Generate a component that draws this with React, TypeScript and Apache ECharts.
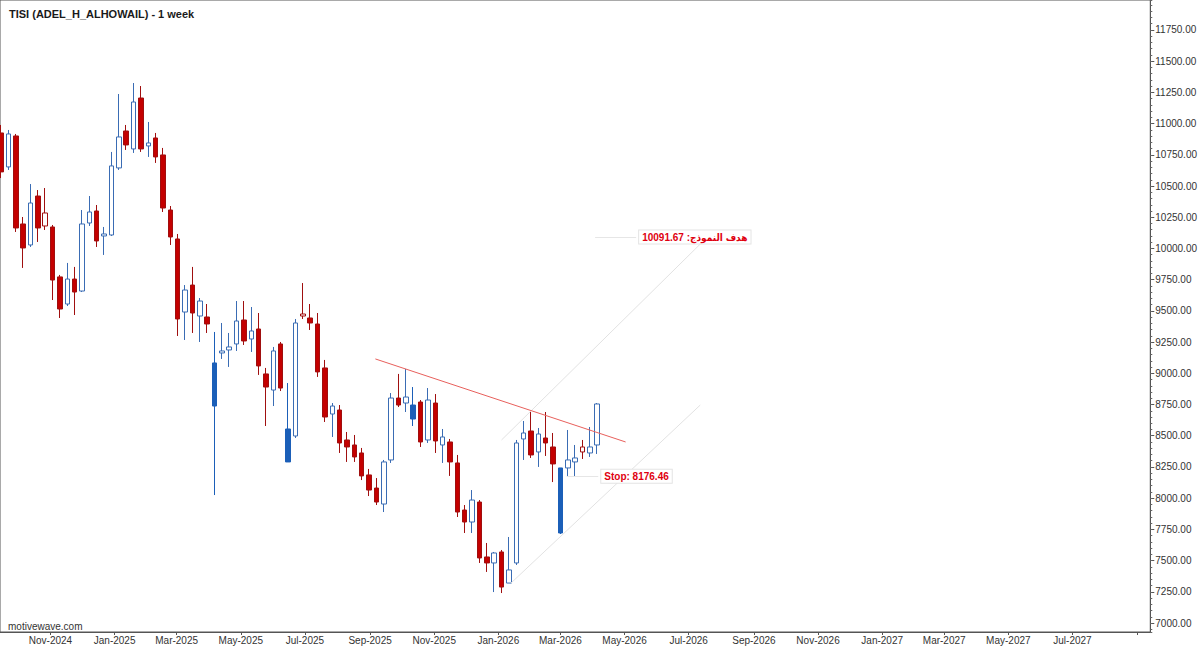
import React, { useEffect, useRef } from 'react';
import * as echarts from 'echarts';

const TITLE = 'TISI (ADEL_H_ALHOWAIL) - 1 week';
const WATERMARK = 'motivewave.com';
const FIRST_WEEK = '2024-09-15';
const MONTHS = ['Jan', 'Feb', 'Mar', 'Apr', 'May', 'Jun', 'Jul', 'Aug', 'Sep', 'Oct', 'Nov', 'Dec'];
const LAST_LABEL_DATE = '2027-07-31';

const openP = [
  10925, 10653, 10901, 10196, 10028, 10420, 10284, 10172, 9772, 9555,
  9755, 9659, 10204, 10300, 10100, 10108, 10645, 10941, 10797, 11205,
  10821, 10885, 10749, 10308, 10076, 9491, 9707, 9459, 9451, 8738,
  9163, 9187, 9235, 9427, 9275, 9355, 8995, 8866, 9235, 8290,
  8498, 9475, 9443, 9395, 9043, 8674, 8706, 8466, 8426, 8362,
  8186, 8081, 7953, 8306, 8802, 8762, 8634, 8770, 8466, 8762,
  8426, 8450, 8282, 7905, 7809, 7969, 7529, 7481, 7569, 7320,
  7481, 8474, 8538, 8370, 8482, 8410, 7721, 8242, 8290, 8410,
  8362, 8426,
];
const closeP = [
  10613, 10917, 10164, 10004, 10364, 10164, 10180, 9747, 9515, 9755,
  9651, 10196, 10292, 10060, 10116, 10661, 10893, 10829, 11173, 10797,
  10845, 10733, 10324, 10092, 9435, 9667, 9483, 9579, 9395, 9083,
  9179, 9211, 9419, 9259, 9339, 9059, 8890, 9179, 8882, 8554,
  9403, 9459, 9403, 9011, 8650, 8738, 8442, 8410, 8330, 8178,
  8065, 7969, 8290, 8802, 8746, 8810, 8746, 8450, 8786, 8458,
  8490, 8290, 7889, 7809, 7985, 7521, 7481, 7561, 7288, 7425,
  8442, 8522, 8346, 8514, 8442, 8274, 8242, 8306, 8322, 8370,
  8410, 8754.35,
];
const lowP = [
  10564, 10629, 10132, 9844, 10012, 10052, 10148, 9587, 9443, 9539,
  9467, 9651, 10180, 10012, 9948, 10100, 10629, 10789, 10765, 10773,
  10733, 10685, 10292, 10028, 9299, 9267, 9323, 9251, 9323, 8025,
  9115, 9051, 9179, 9227, 9171, 8987, 8578, 8738, 8858, 8290,
  8482, 9435, 9347, 8971, 8610, 8490, 8362, 8290, 8290, 8145,
  8017, 7945, 7889, 8282, 8730, 8690, 8578, 8410, 8442, 8362,
  8282, 8178, 7849, 7721, 7721, 7481, 7409, 7248, 7240, 7320,
  7465, 8306, 8322, 8250, 8338, 8129, 7713, 8170, 8170, 8314,
  8330, 8354,
];
const highP = [
  10989, 10949, 10917, 10252, 10516, 10468, 10484, 10188, 9788, 9884,
  9852, 10308, 10420, 10348, 10172, 10773, 11237, 10989, 11325, 11301,
  11013, 10925, 10805, 10340, 10116, 9707, 9852, 9603, 9555, 9331,
  9403, 9323, 9579, 9579, 9531, 9483, 9043, 9211, 9251, 8922,
  9435, 9723, 9555, 9483, 9107, 8762, 8746, 8530, 8506, 8402,
  8234, 8161, 8306, 8842, 8995, 9035, 8890, 8786, 8882, 8834,
  8554, 8474, 8346, 7945, 8065, 7985, 7641, 7569, 7585, 7689,
  8466, 8618, 8698, 8562, 8690, 8522, 8242, 8546, 8426, 8466,
  8570, 8762,
];

const X_MIN = '2024-09-14';
const X_MAX = '2027-09-13';
const Y_MIN = 6928;
const Y_MAX = 11990;
const LAST_PRICE = 8754.35;
const TREND_LINE: [string, number][] = [['2025-09-06', 9115], ['2026-05-02', 8450]];
const CHANNEL_UPPER: [string, number][] = [['2026-01-04', 8466], ['2026-07-15', 10060]];
const CHANNEL_LOWER: [string, number][] = [['2026-01-13', 7320], ['2026-07-12', 8746]];
const TARGET = { from: '2026-04-03', to: '2026-05-12', value: 10091.67, text: 'هدف النموذج: 10091.67' };
const STOP = { from: '2026-03-07', to: '2026-04-06', value: 8176.46, text: 'Stop: 8176.46' };

const FONT = '"Liberation Sans", Arial, "DejaVu Sans", sans-serif';
const LABEL_FONT = '"Liberation Sans", Arial, "DejaVu Sans Condensed", "DejaVu Sans", sans-serif';
const DAY = 86400000;
const BLUE_LINE = '#3a6cb4';
const BLUE_FILL = '#1b5fb8';
const RED_FILL = '#c40000';
const RED_LINE = '#a00f0f';

function buildOption() {
  const t0 = Date.parse(FIRST_WEEK);
  const rows = openP.map((o, i) => [t0 + i * 7 * DAY, o, closeP[i], lowP[i], highP[i]]);
  const isFilled = (i: number) => i === 0 || closeP[i] < closeP[i - 1];
  const filledRows = rows.filter((_, i) => isFilled(i));
  const hollowRows = rows.filter((_, i) => !isFilled(i));
  const lastLabel = Date.parse(LAST_LABEL_DATE);
  const seg = (pts: [string, number][], color: string) => [
    { coord: [Date.parse(pts[0][0]), pts[0][1]], lineStyle: { color, width: 1, type: 'solid' }, label: { show: false } },
    { coord: [Date.parse(pts[1][0]), pts[1][1]] },
  ];
  const labelBox = (text: string) => ({
    show: true,
    position: 'end',
    distance: 3,
    formatter: text,
    color: '#e00010',
    fontWeight: 'bold',
    fontSize: 10,
    fontFamily: LABEL_FONT,
    backgroundColor: '#ffffff',
    borderColor: '#e4e4e4',
    borderWidth: 1,
    padding: [2, 3, 1, 3],
  });

  return {
    animation: false,
    backgroundColor: '#ffffff',
    title: [
      { text: TITLE, left: 4, top: 3, textStyle: { fontSize: 11, fontWeight: 'bold', color: '#1a1a1a', fontFamily: FONT } },
      { text: WATERMARK, left: 3, top: 616, textStyle: { fontSize: 10, fontWeight: 'normal', color: '#333', fontFamily: FONT } },
    ],
    grid: { left: 0, right: 47, top: 0, bottom: 14, show: true, borderColor: '#555', borderWidth: 1, backgroundColor: 'transparent' },
    xAxis: {
      type: 'time',
      min: Date.parse(X_MIN),
      max: Date.parse(X_MAX),
      splitNumber: 15,
      minInterval: 70 * DAY,
      maxInterval: 70 * DAY,
      axisLine: { show: true, lineStyle: { color: '#555', width: 1 } },
      axisTick: { show: true, length: 3, lineStyle: { color: '#555' } },
      splitLine: { show: false },
      axisLabel: {
        show: true,
        margin: 3,
        fontSize: 10,
        color: '#333',
        fontFamily: FONT,
        showMinLabel: false,
        showMaxLabel: false,
        formatter: (v: number) => {
          if (v > lastLabel) return '';
          const d = new Date(v);
          return MONTHS[d.getMonth()] + '-' + d.getFullYear();
        },
      },
    },
    yAxis: [
      {
        type: 'value',
        position: 'right',
        min: Y_MIN,
        max: Y_MAX,
        minInterval: 250,
        maxInterval: 250,
        scale: true,
        axisLine: { show: true, lineStyle: { color: '#555', width: 1 } },
        axisTick: { show: true, length: 4, lineStyle: { color: '#555' } },
        splitLine: { show: false },
        axisLabel: {
          show: true,
          margin: 5,
          fontSize: 10,
          color: '#333',
          fontFamily: FONT,
          showMinLabel: false,
          showMaxLabel: false,
          formatter: (v: number) => v.toFixed(2),
        },
      },
      {
        type: 'value',
        position: 'right',
        min: Y_MIN,
        max: Y_MAX,
        minInterval: 50,
        maxInterval: 50,
        scale: true,
        axisLine: { show: false },
        axisTick: { show: true, length: 2, lineStyle: { color: '#666' } },
        splitLine: { show: false },
        axisLabel: { show: false },
      },
    ],
    series: [
      {
        type: 'candlestick',
        name: 'filled',
        barWidth: 5,
        data: filledRows,
        itemStyle: { color: BLUE_FILL, color0: RED_FILL, borderColor: BLUE_FILL, borderColor0: RED_LINE, borderWidth: 1 },
      },
      {
        type: 'candlestick',
        name: 'hollow',
        barWidth: 5,
        data: hollowRows,
        itemStyle: { color: '#ffffff', color0: '#ffffff', borderColor: BLUE_LINE, borderColor0: RED_LINE, borderWidth: 1 },
        markLine: {
          silent: true,
          symbol: ['none', 'none'],
          animation: false,
          precision: 2,
          data: [
            seg(CHANNEL_UPPER, '#e2e2e2'),
            seg(CHANNEL_LOWER, '#e2e2e2'),
            seg(TREND_LINE, '#e8605c'),
            [
              { coord: [Date.parse(TARGET.from), TARGET.value], lineStyle: { color: '#e6e6e6', width: 1, type: 'solid' }, label: labelBox(TARGET.text) },
              { coord: [Date.parse(TARGET.to), TARGET.value] },
            ],
            [
              { coord: [Date.parse(STOP.from), STOP.value], lineStyle: { color: '#e6e6e6', width: 1, type: 'solid' }, label: labelBox(STOP.text) },
              { coord: [Date.parse(STOP.to), STOP.value] },
            ],
            {
              yAxis: LAST_PRICE,
              lineStyle: { opacity: 0 },
              label: {
                show: true,
                position: 'end',
                distance: 4,
                formatter: LAST_PRICE.toFixed(2),
                color: '#222',
                fontSize: 10,
                fontFamily: FONT,
                backgroundColor: '#ffffff',
                borderColor: '#777',
                borderWidth: 1,
                padding: [1, 2, 0, 2],
              },
            },
          ],
        },
      },
    ],
  };
}

export default function App() {
  const ref = useRef<HTMLDivElement>(null);
  useEffect(() => {
    if (!ref.current) return;
    const chart = echarts.init(ref.current, undefined, { renderer: 'svg' });
    chart.setOption(buildOption() as any);
    return () => chart.dispose();
  }, []);
  return (
    <div
      ref={ref}
      style={{ position: 'fixed', left: 0, top: 0, width: 1200, height: 646, background: '#fff' }}
    />
  );
}
